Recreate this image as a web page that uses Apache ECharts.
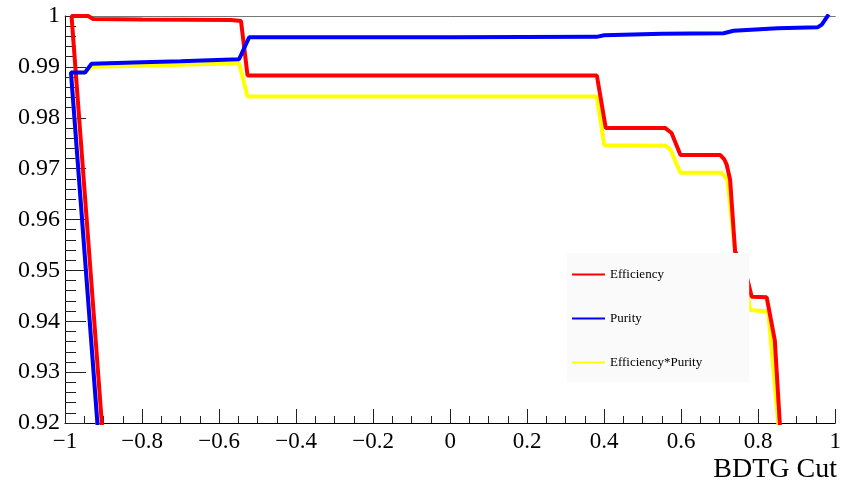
<!DOCTYPE html>
<html>
<head>
<meta charset="utf-8">
<script src="https://cdn.jsdelivr.net/npm/echarts@6/dist/echarts.min.js"></script>
<style>
  html, body { margin: 0; padding: 0; background: #fff; }
  #chart { width: 844px; height: 488px; }
</style>
</head>
<body>
<div id="chart"></div>
<script>
// cut values (x) and curve values (y)
// first point (0,0) is the stray unset point that draws the diagonal
var effCut = [0, -0.983, -0.94, -0.927, -0.80, -0.569, -0.543, -0.526, 0.381, 0.404, 0.558, 0.575, 0.598, 0.701, 0.712, 0.718, 0.727, 0.740, 0.766, 0.783, 0.822, 0.843, 0.856, 0.870];
var effVal = [0, 1.0, 1.0, 0.9994, 0.9993, 0.9992, 0.9990, 0.9883, 0.9883, 0.9780, 0.9780, 0.9770, 0.9727, 0.9727, 0.9718, 0.9708, 0.9678, 0.9537, 0.9501, 0.9448, 0.9447, 0.9363, 0.9200, 0.8800];

var purCut = [0, -0.9845, -0.948, -0.931, -0.80, -0.70, -0.548, -0.522, 0.0, 0.38, 0.40, 0.55, 0.71, 0.736, 0.85, 0.955, 0.965, 0.983];
var purVal = [0, 0.9889, 0.9889, 0.9906, 0.9909, 0.9911, 0.9915, 0.9958, 0.9958, 0.9959, 0.9962, 0.9965, 0.9966, 0.9971, 0.9976, 0.9978, 0.9983, 1.0003];

var prodCut = [0, -0.9845, -0.948, -0.931, -0.80, -0.548, -0.526, 0.381, 0.400, 0.560, 0.572, 0.598, 0.705, 0.720, 0.740, 0.768, 0.779, 0.826, 0.852, 0.865];
var prodVal = [0, 0.9889, 0.9889, 0.9900, 0.9902, 0.9907, 0.9842, 0.9842, 0.9746, 0.9745, 0.9737, 0.9692, 0.9692, 0.9678, 0.9537, 0.9475, 0.9422, 0.9419, 0.9200, 0.8900];

var names = ['Efficiency', 'Purity', 'Efficiency*Purity'];

function pairs(xs, ys){
	var out = [];
	for(var i = 0; i < xs.length; i++){
		out.push([xs[i], ys[i]]);
	}
	return out;
}

// ROOT style labels: real minus sign, no trailing zeros
function fmt(v){
	var s = String(parseFloat(v.toFixed(2)));
	return s.replace('-', '\u2212');
}

var serif = 'Liberation Serif';
var chart = echarts.init(document.getElementById('chart'));

var option = {
	animation: false,
	backgroundColor: '#fff',
	title: {
		text: 'BDTG Cut',
		right: 2,
		top: 451,
		textStyle: { fontFamily: serif, fontSize: 28, fontWeight: 'normal', color: '#000' }
	},
	legend: {
		data: names,
		orient: 'vertical',
		left: 567,
		top: 253,
		backgroundColor: '#fafafa',
		padding: [15, 47, 13, 5],
		icon: 'rect',
		itemWidth: 33,
		itemHeight: 2,
		itemGap: 31,
		textStyle: { fontFamily: serif, fontSize: 13, color: '#000' }
	},
	grid: { left: 65, right: 5, top: 16, bottom: 65 },
	xAxis: [{
		type: 'value',
		min: -1,
		max: 1,
		interval: 0.2,
		axisLine: { onZero: false, lineStyle: { color: '#000', width: 1 } },
		axisTick: { inside: true, length: 14, lineStyle: { color: '#222' } },
		minorTick: { show: true, splitNumber: 4, length: 7, lineStyle: { color: '#222' } },
		splitLine: { show: false },
		axisLabel: { fontFamily: serif, fontSize: 23, color: '#000', margin: 7, formatter: fmt }
	}, {
		type: 'value',
		position: 'top',
		min: -1,
		max: 1,
		axisLine: { show: true, onZero: false, lineStyle: { color: '#777', width: 1 } },
		axisTick: { show: false },
		axisLabel: { show: false },
		splitLine: { show: false }
	}],
	yAxis: {
		type: 'value',
		min: 0.92,
		max: 1,
		interval: 0.01,
		axisLine: { show: true, onZero: false, lineStyle: { color: '#000', width: 1 } },
		axisTick: { show: true, inside: true, length: 21, lineStyle: { color: '#222' } },
		minorTick: { show: true, splitNumber: 5, length: 11, lineStyle: { color: '#222' } },
		splitLine: { show: false },
		axisLabel: { fontFamily: serif, fontSize: 24, color: '#000', margin: 5, formatter: fmt }
	},
	series: [{
		name: 'Efficiency*Purity',
		type: 'line',
		color: '#ffff00',
		symbol: 'none',
		clip: true,
		lineStyle: { width: 4, color: '#ffff00' },
		data: pairs(prodCut, prodVal)
	}, {
		name: 'Efficiency',
		type: 'line',
		color: '#ff0000',
		symbol: 'none',
		clip: true,
		lineStyle: { width: 4, color: '#ff0000' },
		data: pairs(effCut, effVal)
	}, {
		name: 'Purity',
		type: 'line',
		color: '#0000ff',
		symbol: 'none',
		clip: true,
		lineStyle: { width: 4, color: '#0000ff' },
		data: pairs(purCut, purVal)
	}]
};
chart.setOption(option);
</script>
</body>
</html>
